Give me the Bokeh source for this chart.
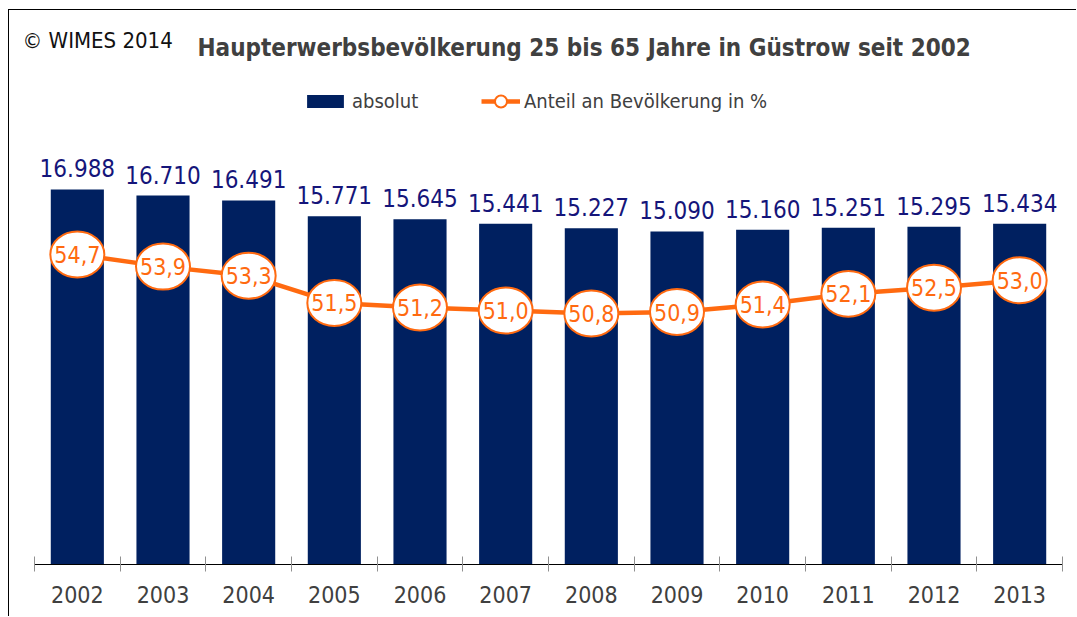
import numpy as np
from bokeh.plotting import figure
from bokeh.models import Range1d, FixedTicker, Label, Legend, LegendItem, ColumnDataSource
from bokeh.core.properties import value
from bokeh.embed import file_html
from bokeh.resources import INLINE

years = ["2002", "2003", "2004", "2005", "2006", "2007",
         "2008", "2009", "2010", "2011", "2012", "2013"]
absolut = [16988, 16710, 16491, 15771, 15645, 15441,
           15227, 15090, 15160, 15251, 15295, 15434]
anteil = [54.7, 53.9, 53.3, 51.5, 51.2, 51.0,
          50.8, 50.9, 51.4, 52.1, 52.5, 53.0]

FONT = "DejaVu Sans Condensed"
NAVY = "#002060"
ORANGE = "#ff6a10"
GRAY = "#404040"

W, H = 1068, 607
FRAME_L, FRAME_R = 25, 1053          # category axis extent in canvas px
n = len(years)
PX = (FRAME_R - FRAME_L) / n

x = np.arange(n) + 0.5
src = ColumnDataSource(dict(
    x=x, absolut=absolut, anteil=anteil,
    abs_lbl=[f"{v:,}".replace(",", ".") for v in absolut],
    pct_lbl=[f"{v:.1f}".replace(".", ",") for v in anteil],
))

p = figure(width=W, height=H,
           x_range=Range1d(-FRAME_L / PX, n + (W - FRAME_R) / PX),
           y_range=Range1d(0, 25096),
           y_axis_location=None,
           output_backend="svg", toolbar_location=None,
           min_border_left=0, min_border_right=0,
           min_border_top=0, min_border_bottom=53,
           styles={"margin-left": "8px", "margin-top": "9px",
                   "border-left": "1px solid #000", "border-top": "1px solid #000"})
p.extra_y_ranges = {"pct": Range1d(34.21, 70.83)}
p.outline_line_color = None
p.grid.visible = False
p.background_fill_color = "white"
p.border_fill_color = "white"

ax = p.xaxis[0]
ax.bounds = (0, n)
ax.ticker = FixedTicker(ticks=list(x), minor_ticks=list(range(n + 1)))
ax.major_label_overrides = {float(xi): y for xi, y in zip(x, years)}
ax.major_tick_line_color = None
ax.major_tick_in = 0
ax.major_tick_out = 0
ax.minor_tick_line_color = "#909090"
ax.minor_tick_in = 8
ax.minor_tick_out = 7
ax.axis_line_color = "black"
ax.axis_line_width = 1
ax.major_label_text_font = FONT
ax.major_label_text_font_size = "23px"
ax.major_label_text_color = GRAY
ax.major_label_standoff = 14

bars = p.vbar(x="x", top="absolut", width=0.62, source=src,
              fill_color=NAVY, line_color=None)
p.text(x="x", y="absolut", text="abs_lbl", source=src,
       text_align="center", text_baseline="middle", y_offset=-21,
       text_font=value(FONT), text_font_size="24px", text_color="#15157a")

line = p.line(x="x", y="anteil", source=src, y_range_name="pct",
              line_color=ORANGE, line_width=4.5)
dots = p.scatter(x="x", y="anteil", source=src, y_range_name="pct", size=12,
                 fill_color="white", line_color=ORANGE, line_width=2)
p.ellipse(x="x", y="anteil", source=src, y_range_name="pct",
          width=54, height=46, width_units="screen", height_units="screen",
          fill_color="white", line_color=ORANGE, line_width=2)
p.text(x="x", y="anteil", text="pct_lbl", source=src, y_range_name="pct",
       text_align="center", text_baseline="middle",
       text_font=value(FONT), text_font_size="23px", text_color=ORANGE)

def mk_legend(items, loc, gw, gh):
    return Legend(items=items, location=loc, orientation="horizontal",
                  glyph_width=gw, glyph_height=gh, padding=0, margin=0,
                  border_line_color=None, background_fill_alpha=0,
                  label_text_font=FONT, label_text_font_size="20px",
                  label_text_color=GRAY, label_standoff=4)

p.add_layout(mk_legend([LegendItem(label="absolut", renderers=[bars])], (293, 451), 46, 16))
p.add_layout(mk_legend([LegendItem(label="Anteil an Bevölkerung in %", renderers=[line, dots])],
                       (472, 448), 39, 30))

p.add_layout(Label(x=188, y=517, x_units="screen", y_units="screen",
                   text="Haupterwerbsbevölkerung 25 bis 65 Jahre in Güstrow seit 2002",
                   text_font=FONT, text_font_style="bold", text_font_size="24px",
                   text_color=GRAY, text_align="left", text_baseline="middle"))
p.add_layout(Label(x=13, y=524, x_units="screen", y_units="screen",
                   text="© WIMES 2014",
                   text_font=FONT, text_font_size="22px",
                   text_color="#111111", text_align="left", text_baseline="middle"))

open("out.html", "w").write(file_html(p, INLINE))
